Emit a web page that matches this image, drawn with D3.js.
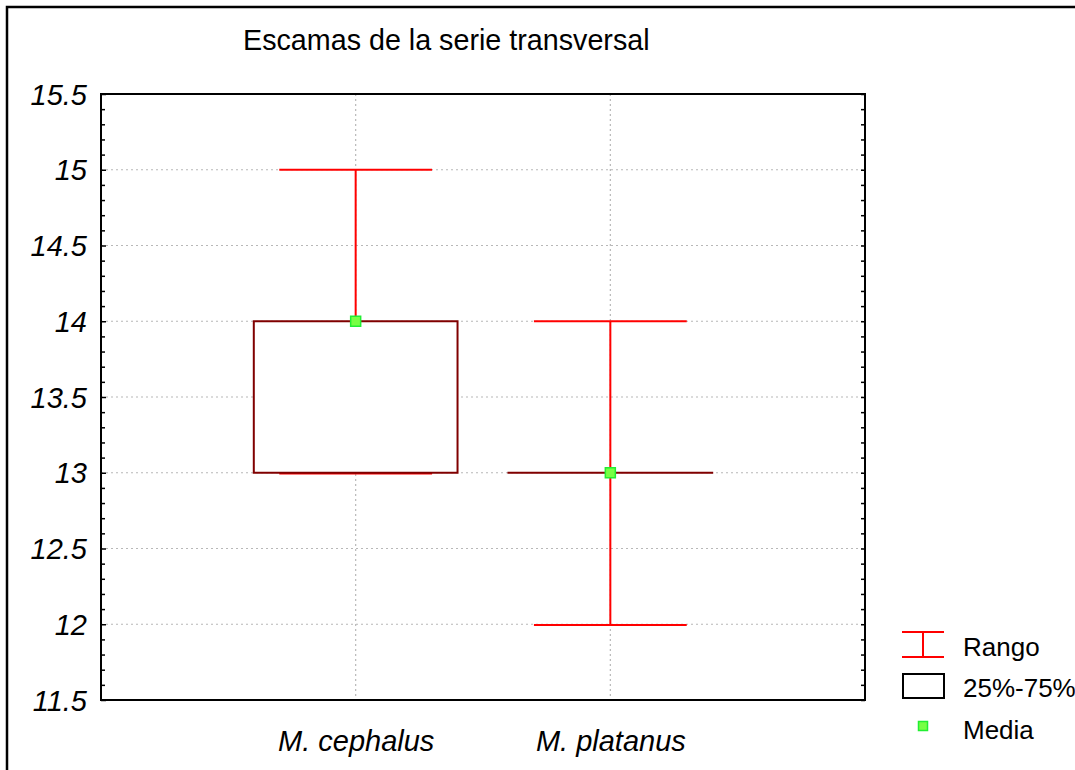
<!DOCTYPE html>
<html><head><meta charset="utf-8">
<script src="https://cdn.jsdelivr.net/npm/d3@7/dist/d3.min.js"></script>
<style>body{margin:0;background:#fff;} svg{display:block;} text{font-family:"Liberation Sans",Arial,sans-serif;fill:#000;}</style>
</head><body>
<svg id="c" width="1075" height="770"></svg>
<script>
const title = "Escamas de la serie transversal";
const categories = ["M. cephalus", "M. platanus"];
const minVals = [13, 12];
const maxVals = [15, 14];
const q1Vals = [13, 13];
const q3Vals = [14, 13];
const meanVals = [14, 13];
const yMajorTicks = [11.5, 12, 12.5, 13, 13.5, 14, 14.5, 15, 15.5];
const yGridTicks = [12, 12.5, 13, 13.5, 14, 14.5, 15];
const legendLabels = ["Rango", "25%-75%", "Media"];

const svg = d3.select("#c");
const L = 101, R = 865, T = 94, B = 700;
const x = d3.scalePoint().domain(categories).range([L, R]).padding(1);
const y = d3.scaleLinear().domain([11.5, 15.5]).range([B, T]);
const step = x.step();
const boxW = step * 0.8, capW = step * 0.6;
const RED = "#ff0000", DARK = "#800000";

// outer frame (clipped at right/bottom)
svg.append("rect").attr("x", 7).attr("y", 7).attr("width", 1200).attr("height", 900)
  .attr("fill", "none").attr("stroke", "#000").attr("stroke-width", 2.5);

// title
svg.append("text").attr("x", 243).attr("y", 50).attr("font-size", 28.7).text(title);

// grid
const g = svg.append("g");
g.selectAll(".hg").data(yGridTicks).join("line")
  .attr("x1", L).attr("x2", R).attr("y1", d => y(d)).attr("y2", d => y(d))
  .attr("stroke", "#b8b8b8").attr("stroke-width", 1.2).attr("stroke-dasharray", "2,3");
g.selectAll(".vg").data(categories).join("line")
  .attr("x1", d => x(d)).attr("x2", d => x(d)).attr("y1", T).attr("y2", B)
  .attr("stroke", "#b8b8b8").attr("stroke-width", 1.2).attr("stroke-dasharray", "2,3");

// whiskers
const data = categories.map((c, i) => ({c, min: minVals[i], max: maxVals[i], q1: q1Vals[i], q3: q3Vals[i], m: meanVals[i]}));
const wg = svg.append("g");
wg.selectAll(".wv").data(data).join("line")
  .attr("x1", d => x(d.c)).attr("x2", d => x(d.c))
  .attr("y1", d => y(d.min)).attr("y2", d => y(d.max))
  .attr("stroke", RED).attr("stroke-width", 2);
wg.selectAll(".capt").data(data).join("line")
  .attr("x1", d => x(d.c) - capW / 2).attr("x2", d => x(d.c) + capW / 2)
  .attr("y1", d => y(d.max)).attr("y2", d => y(d.max))
  .attr("stroke", RED).attr("stroke-width", 2);
wg.selectAll(".capb").data(data).join("line")
  .attr("x1", d => x(d.c) - capW / 2).attr("x2", d => x(d.c) + capW / 2)
  .attr("y1", d => y(d.min) + 0.8).attr("y2", d => y(d.min) + 0.8)
  .attr("stroke", RED).attr("stroke-width", 2);

// boxes (white fill hides the whisker inside)
svg.append("g").selectAll("rect").data(data).join("rect")
  .attr("x", d => x(d.c) - boxW / 2).attr("width", boxW)
  .attr("y", d => y(d.q3)).attr("height", d => Math.max(0.01, y(d.q1) - y(d.q3)))
  .attr("fill", d => (d.q3 > d.q1 ? "#fff" : "none"))
  .attr("stroke", DARK).attr("stroke-width", 2);

// mean markers
svg.append("g").selectAll("rect").data(data).join("rect")
  .attr("x", d => x(d.c) - 5).attr("y", d => y(d.m) - 5).attr("width", 10).attr("height", 10)
  .attr("fill", "#77ff44").attr("stroke", "#22ee33").attr("stroke-width", 1.5);

// plot frame
svg.append("rect").attr("x", L).attr("y", T).attr("width", R - L).attr("height", B - T)
  .attr("fill", "none").attr("stroke", "#000").attr("stroke-width", 2);

// axes
const minorTicks = d3.range(115, 156).map(v => v / 10).filter(v => Math.abs(v * 2 - Math.round(v * 2)) > 1e-6);
const leftAx = svg.append("g").attr("transform", `translate(${L},0)`)
  .call(d3.axisLeft(y).tickValues(yMajorTicks).tickSize(-5).tickPadding(14).tickFormat(d => String(d)));
leftAx.select(".domain").remove();
leftAx.selectAll("line").attr("stroke-width", 1.5);
leftAx.selectAll("text").attr("font-size", 29).attr("font-style", "italic")
  .attr("font-family", '"Liberation Sans",Arial,sans-serif').attr("dy", "0.35em");
const leftMinor = svg.append("g").attr("transform", `translate(${L},0)`)
  .call(d3.axisLeft(y).tickValues(minorTicks).tickSize(-4).tickFormat(""));
leftMinor.select(".domain").remove();
leftMinor.selectAll("line").attr("stroke-width", 1.5);
const rightAx = svg.append("g").attr("transform", `translate(${R},0)`)
  .call(d3.axisRight(y).tickValues(yMajorTicks.concat(minorTicks)).tickSize(-4).tickFormat(""));
rightAx.select(".domain").remove();
rightAx.selectAll("line").attr("stroke-width", 1.5);

const bottomAx = svg.append("g").attr("transform", `translate(0,${B})`)
  .call(d3.axisBottom(x).tickSize(0).tickPadding(30));
bottomAx.select(".domain").remove();
bottomAx.selectAll("text").attr("font-size", 29).attr("font-style", "italic")
  .attr("font-family", '"Liberation Sans",Arial,sans-serif');

// legend
const lg = svg.append("g");
lg.append("line").attr("x1", 902).attr("x2", 944).attr("y1", 632).attr("y2", 632).attr("stroke", RED).attr("stroke-width", 2);
lg.append("line").attr("x1", 902).attr("x2", 944).attr("y1", 657).attr("y2", 657).attr("stroke", RED).attr("stroke-width", 2);
lg.append("line").attr("x1", 923).attr("x2", 923).attr("y1", 632).attr("y2", 657).attr("stroke", RED).attr("stroke-width", 2);
lg.append("rect").attr("x", 903).attr("y", 674).attr("width", 41).attr("height", 24)
  .attr("fill", "#fff").attr("stroke", "#000").attr("stroke-width", 2);
lg.append("rect").attr("x", 918.5).attr("y", 721.5).attr("width", 9).attr("height", 9)
  .attr("fill", "#77ff44").attr("stroke", "#22ee33").attr("stroke-width", 1.5);
lg.selectAll("text").data(legendLabels).join("text")
  .attr("x", 963).attr("y", (d, i) => [656, 697, 739][i]).attr("font-size", 26).text(d => d);
</script>
</body></html>
